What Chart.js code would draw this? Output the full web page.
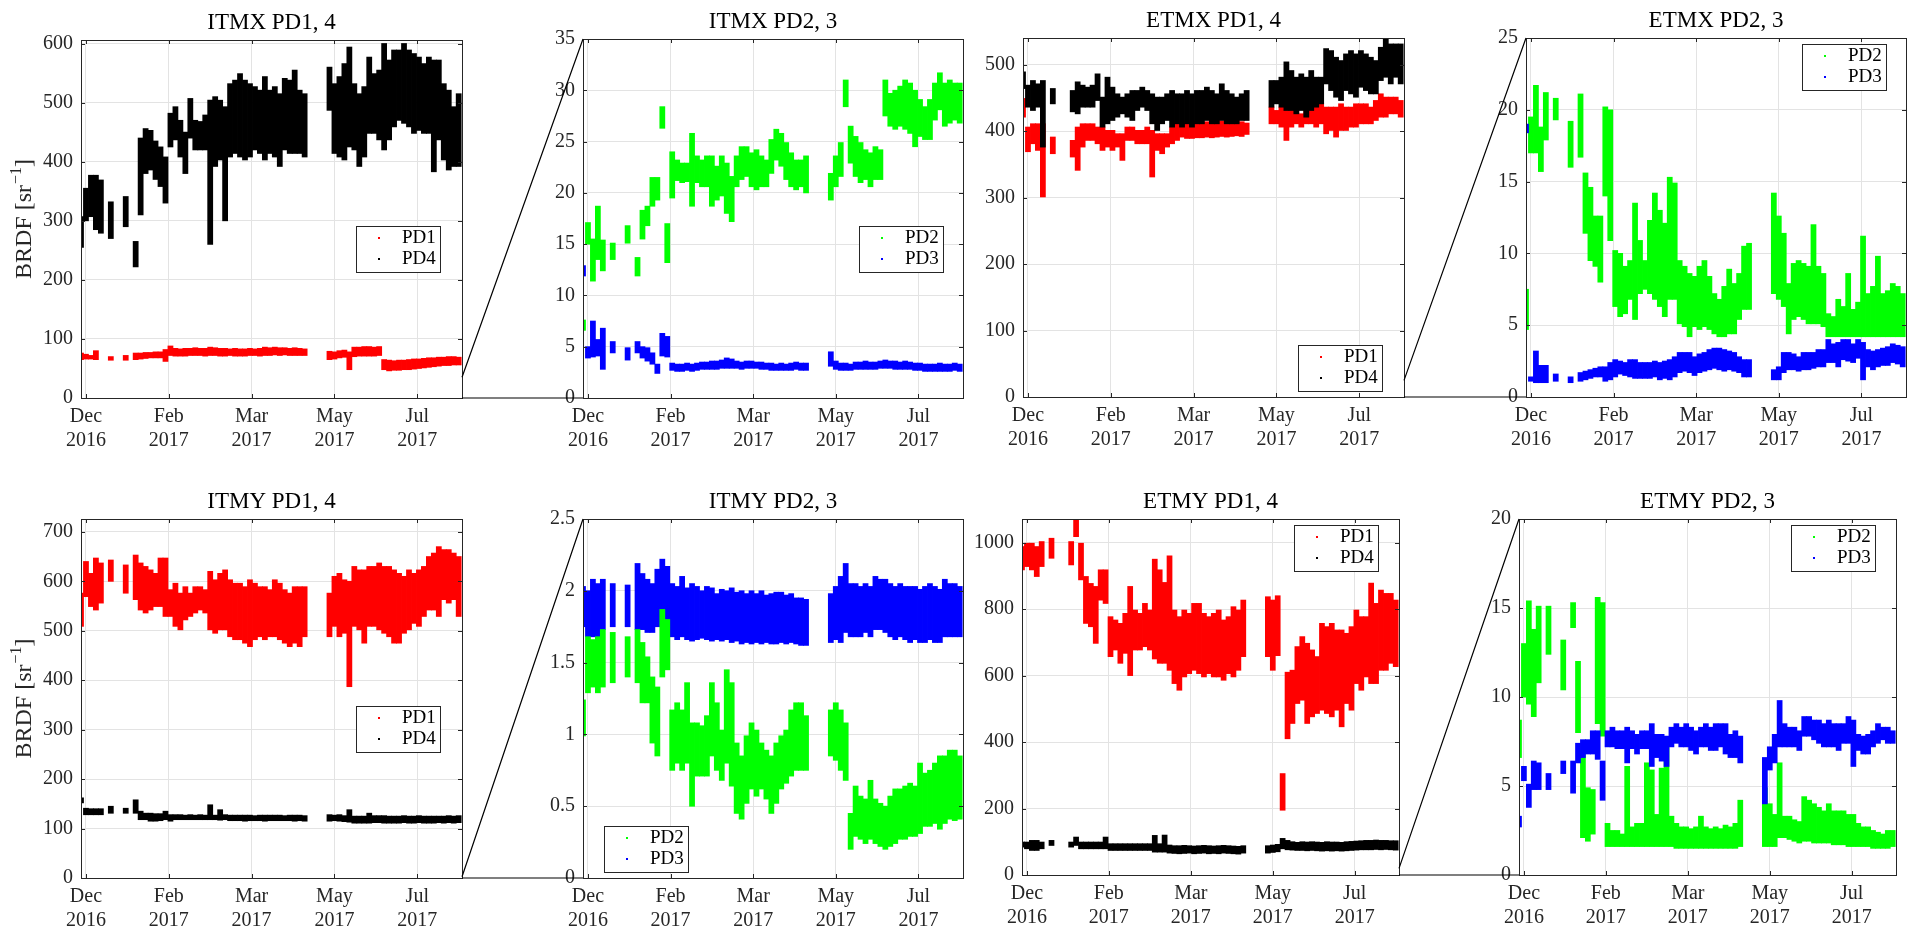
<!DOCTYPE html>
<html>
<head>
<meta charset="utf-8">
<title>BRDF PD1-4</title>
<script src="https://cdn.jsdelivr.net/npm/chart.js@4.4.1/dist/chart.umd.min.js"></script>
<style>
  body { margin: 0; background: #fff; }
  #page { position: relative; width: 1907px; height: 928px; overflow: hidden; background: #fff; }
  #links { position: absolute; left: 0; top: 0; z-index: 5; pointer-events: none; }
</style>
</head>
<body>
<div id="page">
  <canvas id="links" width="1907" height="928"></canvas>
</div>
<script>
// days counted from 16 Dec 2016; every series is sampled on this 3-day grid as [low, high] spread
const dayGrid = [-3, 0, 3, 6, 9, 12, 15, 18, 21, 24,
  27, 30, 33, 36, 39, 42, 45, 48, 51, 54,
  57, 60, 63, 66, 69, 72, 75, 78, 81, 84,
  87, 90, 93, 96, 99, 102, 105, 108, 111, 114,
  117, 120, 123, 126, 129, 132, 135, 138, 141, 144,
  147, 150, 153, 156, 159, 162, 165, 168, 171, 174,
  177, 180, 183, 186, 189, 192, 195, 198, 201, 204,
  207, 210, 213, 216, 219, 222, 225];

const tickDays = [0, 50, 100, 150, 200];
const tickLabels = [['Dec', '2016'], ['Feb', '2017'], ['Mar', '2017'], ['May', '2017'], ['Jul', '2017']];

// ITMX
const itmxPd1 = [
  [65,76], [66,74], [66,72], [65,80], null, null, [64,70], null, null, [64,72],
  null, [65,76], [66,76], [67,77], [68,77], [68,78], [68,78], [62,82], [72,88], [71,84],
  [71,83], [71,84], [72,84], [72,85], [72,84], [71,84], [72,86], [72,85], [71,84], [71,84],
  [72,83], [71,84], [71,83], [71,83], [72,84], [72,83], [71,84], [72,86], [72,85], [73,86],
  [72,85], [73,85], [72,84], [72,85], [72,84], [72,83], null, null, null, null,
  [65,79], [66,78], [68,80], [69,81], [48,78], [70,86], [71,86], [71,87], [71,87], [71,86],
  [72,87], [48,65], [46,64], [47,63], [47,64], [48,64], [48,65], [49,66], [50,66], [51,67],
  [52,68], [53,68], [54,69], [55,69], [55,70], [56,70], [56,69]];
const itmxPd4 = [
  [255,307], [300,355], [307,377], [285,377], [279,369], null, [270,332], null, null, [290,341],
  null, [222,265], [310,440], [380,456], [386,453], [370,435], [358,425], [330,408], [425,482], [437,493],
  [408,470], [380,450], [440,507], [420,470], [420,468], [420,479], [260,504], [392,510], [403,504], [300,493],
  [408,532], [414,538], [408,549], [403,538], [408,532], [420,527], [414,521], [403,544], [414,521], [408,527],
  [392,515], [420,541], [414,538], [414,555], [414,521], [408,515], null, null, null, null,
  [487,560], [414,532], [408,544], [403,566], [425,594], [420,532], [392,515], [408,527], [448,577], [448,549],
  [437,555], [420,600], [437,572], [459,589], [470,589], [465,600], [459,589], [448,583], [453,577], [448,566],
  [448,577], [383,572], [437,572], [403,532], [386,521], [392,493], [392,515]];
const itmxPd2 = [
  [6.6,7.6], [15.0,17.1], [11.4,15.5], [13.5,18.7], [12.4,15.4], null, [13.5,15.1], null, null, [15.1,16.8],
  null, [11.9,13.7], [15.5,18.3], [16.8,18.7], [18.7,21.5], [19.3,21.5], [26.3,28.4], [13.2,17.0], [19.5,24.0], [21.2,23.2],
  [21.0,22.9], [21.1,22.9], [18.7,25.8], [21.0,23.6], [20.6,23.2], [20.6,23.6], [18.7,23.6], [19.3,22.6], [19.7,23.6], [18.0,22.9],
  [17.2,21.6], [20.6,23.6], [21.3,24.5], [21.6,24.5], [20.6,23.9], [20.3,24.2], [20.6,23.6], [20.6,23.2], [21.9,25.2], [23.2,26.2],
  [22.6,25.8], [21.3,24.9], [20.6,23.9], [20.3,23.2], [20.6,23.2], [20.0,23.6], null, null, null, null,
  [19.3,21.9], [20.6,23.6], [21.6,24.9], [28.4,31.0], [22.9,26.5], [21.6,25.5], [21.0,24.9], [21.3,24.2], [20.6,23.9], [21.3,24.5],
  [21.3,24.2], [27.5,31.0], [26.5,29.7], [26.2,30.0], [26.5,30.4], [26.2,31.0], [25.8,30.7], [24.5,30.0], [25.5,29.1], [25.2,28.4],
  [25.2,29.1], [27.1,30.7], [28.1,31.7], [26.5,30.7], [26.8,31.0], [27.1,30.7], [26.8,30.7]];
const itmxPd3 = [
  [11.9,12.9], [3.9,5.0], [4.0,7.5], [4.1,5.7], [2.8,6.8], null, [4.4,5.5], null, null, [3.7,4.9],
  null, [4.4,5.5], [3.9,5.0], [3.6,4.9], [3.3,4.4], [2.4,3.3], [4.1,6.3], [4.0,6.0], [2.7,3.4], [2.6,3.3],
  [2.6,3.3], [2.7,3.4], [2.6,3.3], [2.7,3.4], [2.8,3.5], [2.8,3.5], [2.8,3.6], [2.8,3.6], [2.9,3.7], [2.9,3.9],
  [2.9,3.8], [2.9,3.6], [2.8,3.5], [2.9,3.6], [2.9,3.6], [2.9,3.5], [2.8,3.5], [2.8,3.4], [2.7,3.4], [2.7,3.3],
  [2.7,3.4], [2.7,3.3], [2.7,3.4], [2.8,3.5], [2.7,3.4], [2.7,3.4], null, null, null, null,
  [3.1,4.5], [2.8,3.6], [2.7,3.4], [2.7,3.4], [2.7,3.3], [2.8,3.5], [2.8,3.5], [2.8,3.6], [2.8,3.5], [2.8,3.5],
  [2.9,3.6], [2.9,3.7], [2.9,3.6], [2.8,3.6], [2.8,3.5], [2.8,3.6], [2.8,3.5], [2.7,3.4], [2.7,3.4], [2.6,3.3],
  [2.6,3.3], [2.6,3.3], [2.6,3.4], [2.6,3.3], [2.6,3.3], [2.7,3.4], [2.6,3.3]];

// ETMX
const etmxPd1 = [
  [421,449], [369,406], [381,411], [371,411], [301,411], null, [366,391], null, null, null,
  [361,386], [341,406], [376,411], [386,411], [386,411], [381,406], [371,406], [376,401], [371,401], [376,396],
  [356,396], [386,406], [386,406], [381,401], [381,401], [381,406], [331,401], [371,396], [366,396], [376,396],
  [381,406], [386,411], [391,411], [389,412], [389,413], [390,414], [390,413], [391,414], [390,414], [391,414],
  [392,415], [391,414], [392,413], [393,414], [392,414], [395,412], null, null, null, null,
  [411,436], [411,431], [406,436], [386,431], [406,431], [411,431], [406,426], [411,431], [411,441], [406,441],
  [411,441], [396,436], [401,436], [391,436], [401,441], [401,436], [406,436], [406,441], [411,441], [411,441],
  [411,436], [416,446], [421,456], [421,451], [426,451], [426,451], [421,446]];
const etmxPd4 = [
  [464,489], [436,469], [431,476], [436,471], [376,476], null, [441,464], null, null, null,
  [429,461], [426,474], [436,469], [436,466], [436,469], [446,486], [406,451], [411,481], [416,466], [421,456],
  [426,451], [421,456], [416,461], [431,461], [436,466], [431,461], [411,456], [401,451], [411,451], [416,456],
  [406,461], [411,456], [406,456], [411,461], [406,456], [411,461], [411,461], [416,466], [411,461], [411,456],
  [416,471], [411,461], [411,456], [411,451], [416,456], [416,461], null, null, null, null,
  [436,476], [441,476], [436,481], [431,504], [431,491], [426,481], [431,486], [421,481], [431,491], [436,481],
  [441,481], [471,524], [461,521], [451,511], [446,506], [461,516], [456,521], [451,516], [466,521], [461,516],
  [456,511], [456,506], [476,526], [481,541], [471,531], [481,531], [471,531]];
const etmxPd2 = [
  [4.7,7.5], [17.0,19.5], [17.0,21.7], [15.7,18.8], [17.9,21.2], null, [19.3,20.8], null, null, [16.0,19.2],
  null, [16.7,21.1], [11.4,15.6], [9.5,14.6], [9.1,12.6], [8.0,12.6], [14.0,20.2], [10.9,20.0], [6.3,10.2], [5.6,10.0],
  [5.8,9.1], [6.8,9.5], [5.4,13.5], [7.2,10.9], [7.5,9.5], [7.2,12.3], [6.8,14.2], [6.3,13.0], [5.6,12.1], [6.8,15.3],
  [6.8,14.9], [5.1,9.5], [4.9,9.1], [4.2,8.6], [4.9,8.4], [4.7,9.1], [4.9,9.5], [4.7,8.4], [4.4,7.2], [4.2,6.8],
  [4.2,7.7], [4.4,8.9], [4.4,7.9], [5.4,8.6], [6.1,10.5], [6.1,10.7], null, null, null, null,
  [7.2,14.2], [6.8,12.6], [6.3,11.4], [4.4,7.9], [5.4,9.3], [5.6,9.5], [5.4,9.3], [5.1,9.1], [5.1,12.0], [5.1,9.1],
  [4.9,8.6], [4.2,5.8], [4.2,5.6], [4.2,6.8], [4.2,6.3], [4.2,8.6], [4.2,6.1], [4.2,6.6], [4.2,11.2], [4.2,7.2],
  [4.2,7.7], [4.2,9.8], [4.2,7.2], [4.2,7.4], [4.2,7.9], [4.2,7.7], [4.2,7.2]];
const etmxPd3 = [
  [18.4,19.0], [1.1,1.4], [1.0,3.2], [1.0,2.2], [1.0,2.2], null, [1.1,1.6], null, null, [1.0,1.4],
  null, [1.1,1.7], [1.2,1.8], [1.3,1.9], [1.4,2.0], [1.4,2.1], [1.1,2.1], [1.2,2.4], [1.4,2.6], [1.6,2.5],
  [1.5,2.4], [1.4,2.6], [1.3,2.6], [1.3,2.4], [1.3,2.4], [1.3,2.4], [1.4,2.5], [1.2,2.4], [1.3,2.5], [1.2,2.6],
  [1.4,2.8], [1.7,3.1], [1.8,3.1], [1.7,3.1], [1.5,2.8], [1.7,3.0], [1.8,3.1], [1.9,3.3], [2.0,3.4], [1.9,3.4],
  [1.8,3.3], [1.9,3.2], [1.8,3.1], [1.7,2.8], [1.4,2.6], [1.4,2.6], null, null, null, null,
  [1.2,1.9], [1.2,2.1], [1.7,3.1], [1.9,3.1], [1.9,3.0], [1.8,2.8], [1.9,3.1], [1.9,3.1], [2.0,3.1], [2.1,3.3],
  [2.1,3.3], [2.4,4.0], [2.4,3.7], [2.1,3.8], [2.6,4.0], [2.5,4.0], [2.4,3.7], [2.7,4.0], [1.2,3.8], [2.1,3.3],
  [1.9,3.2], [2.1,3.3], [2.2,3.4], [2.2,3.5], [2.4,3.7], [2.3,3.6], [2.1,3.5]];

// ITMY
const itmyPd1 = [
  [509,576], [569,640], [549,616], [542,647], [556,637], null, [600,643], null, null, [576,633],
  null, [563,653], [542,637], [536,630], [542,623], [549,616], [549,647], [529,647], [529,583], [509,596],
  [502,576], [522,589], [529,576], [536,589], [542,589], [536,583], [502,620], [495,603], [502,616], [502,623],
  [488,603], [482,596], [482,596], [475,589], [468,603], [482,596], [488,589], [482,589], [488,583], [488,603],
  [482,596], [475,583], [468,576], [475,589], [468,589], [488,589], null, null, null, null,
  [488,576], [509,610], [488,616], [495,603], [387,600], [509,630], [502,623], [475,623], [509,630], [509,630],
  [502,637], [495,630], [488,630], [475,623], [475,616], [495,610], [502,623], [515,616], [509,623], [529,630],
  [542,650], [542,657], [529,670], [563,664], [556,664], [563,657], [529,650]];
const itmyPd4 = [
  [152,162], [128,141], [128,140], [128,140], [128,140], null, [131,145], null, null, [131,141],
  null, [131,158], [118,135], [118,131], [115,131], [115,130], [116,130], [118,135], [115,128], [118,128],
  [118,128], [118,127], [118,128], [118,127], [118,128], [118,127], [118,148], [118,127], [117,138], [118,128],
  [116,127], [116,127], [116,127], [115,127], [116,127], [116,126], [116,127], [115,127], [116,127], [116,127],
  [116,127], [116,126], [116,127], [115,127], [116,127], [115,126], null, null, null, null,
  [115,128], [116,127], [115,128], [114,126], [113,138], [111,125], [111,125], [111,125], [111,131], [112,126],
  [112,126], [111,126], [111,125], [111,125], [111,125], [112,126], [111,125], [111,125], [112,126], [111,125],
  [111,125], [111,125], [112,125], [111,125], [112,126], [111,125], [112,126]];
const itmyPd2 = [
  [0.99,1.24], [1.29,1.68], [1.33,1.66], [1.29,1.68], [1.33,1.73], null, [1.36,1.71], null, null, [1.40,1.68],
  null, [1.36,1.73], [1.22,1.64], [1.22,1.54], [0.94,1.40], [0.85,1.33], [1.40,1.87], [1.45,1.80], [0.75,1.17], [0.80,1.22],
  [0.75,1.17], [0.80,1.36], [0.50,1.08], [0.71,1.08], [0.71,1.06], [0.71,1.13], [0.85,1.36], [0.75,1.22], [0.68,1.03], [0.80,1.45],
  [0.64,1.36], [0.45,0.94], [0.41,0.85], [0.52,0.99], [0.62,1.08], [0.57,1.03], [0.62,0.94], [0.55,0.89], [0.45,0.85], [0.52,0.94],
  [0.62,0.99], [0.66,1.03], [0.71,1.17], [0.75,1.22], [0.75,1.22], [0.75,1.13], null, null, null, null,
  [0.85,1.17], [0.82,1.22], [0.75,1.17], [0.68,1.08], [0.20,0.45], [0.29,0.64], [0.27,0.57], [0.24,0.55], [0.27,0.68], [0.24,0.55],
  [0.22,0.52], [0.20,0.50], [0.22,0.57], [0.24,0.62], [0.27,0.62], [0.27,0.64], [0.29,0.66], [0.29,0.64], [0.31,0.80], [0.36,0.73],
  [0.36,0.75], [0.38,0.80], [0.34,0.85], [0.38,0.85], [0.41,0.89], [0.40,0.89], [0.41,0.85]];
const itmyPd3 = [
  [1.75,2.03], [1.68,2.00], [1.68,2.08], [1.64,2.05], [1.73,2.08], null, [1.75,2.05], null, null, [1.75,2.04],
  null, [1.73,2.19], [1.73,2.12], [1.71,2.08], [1.71,2.05], [1.75,2.15], [1.80,2.22], [1.75,2.17], [1.68,2.05], [1.66,2.03],
  [1.68,2.10], [1.66,2.02], [1.65,2.05], [1.66,2.03], [1.67,2.00], [1.66,2.03], [1.65,2.02], [1.66,1.98], [1.65,2.01], [1.66,2.00],
  [1.64,2.02], [1.65,1.99], [1.63,2.00], [1.64,1.98], [1.63,2.00], [1.64,1.98], [1.63,2.00], [1.64,1.97], [1.63,1.98], [1.63,1.99],
  [1.64,1.99], [1.63,1.97], [1.64,1.98], [1.63,1.95], [1.62,1.95], [1.62,1.94], null, null, null, null,
  [1.64,1.98], [1.66,2.03], [1.64,2.10], [1.71,2.19], [1.68,2.05], [1.68,2.05], [1.68,2.03], [1.71,2.05], [1.68,2.03], [1.73,2.10],
  [1.73,2.08], [1.71,2.08], [1.68,2.05], [1.66,2.03], [1.68,2.05], [1.66,2.03], [1.64,2.03], [1.66,2.03], [1.64,2.01], [1.64,2.03],
  [1.66,2.05], [1.64,2.03], [1.64,2.01], [1.68,2.08], [1.68,2.05], [1.68,2.05], [1.68,2.03]];

// ETMY
const etmyPd1 = [
  [918,988], [928,998], [918,998], [898,988], [928,1003], null, [953,1013], null, null, null,
  [933,1003], [1018,1075], [888,998], [757,898], [747,877], [697,868], [827,918], [817,918], [657,777], [677,767],
  [637,757], [667,787], [600,868], [677,797], [677,787], [687,817], [677,797], [650,950], [637,918], [637,880],
  [616,960], [576,797], [556,777], [596,797], [606,787], [616,817], [606,817], [596,787], [606,777], [596,787],
  [596,797], [586,767], [606,777], [596,807], [616,797], [657,827], null, null, null, null,
  [657,837], [616,827], [660,840], [195,305], [410,610], [456,616], [516,687], [526,717], [456,697], [476,677],
  [486,657], [496,757], [486,747], [476,757], [496,737], [446,737], [516,727], [496,747], [576,797], [556,777],
  [596,777], [576,878], [576,817], [616,857], [616,847], [637,847], [627,827]];
const etmyPd4 = [
  [84,99], [79,99], [74,104], [74,104], [79,99], null, [89,104], null, null, null,
  [84,99], [89,114], [79,99], [79,99], [79,99], [79,99], [79,99], [79,114], [74,94], [74,94],
  [74,94], [74,94], [74,94], [74,94], [74,94], [74,94], [74,94], [69,119], [69,94], [69,120],
  [66,90], [65,88], [64,88], [65,89], [66,88], [64,87], [65,88], [66,89], [64,88], [65,87],
  [64,88], [66,89], [65,88], [64,87], [63,86], [66,88], null, null, null, null,
  [66,88], [68,90], [70,92], [79,110], [76,104], [75,100], [74,98], [74,100], [73,99], [74,100],
  [73,99], [72,98], [73,100], [72,99], [73,99], [72,98], [73,100], [74,101], [75,102], [76,103],
  [76,104], [76,104], [77,105], [76,104], [77,104], [76,103], [75,103]];
const etmyPd2 = [
  [6.6,8.7], [10.0,13.0], [9.6,15.4], [8.9,13.8], [10.8,15.1], null, [12.4,15.1], null, null, [10.4,13.2],
  null, [13.9,15.3], [8.0,12.0], [2.1,6.8], [1.9,4.9], [2.3,4.8], [8.5,15.6], [7.8,15.3], [1.6,2.9], [1.6,2.5],
  [1.6,2.5], [1.6,2.3], [1.6,6.1], [1.6,2.7], [1.6,2.9], [1.6,2.9], [1.6,6.3], [1.6,5.9], [1.6,3.4], [1.6,6.0],
  [1.6,7.5], [1.6,3.3], [1.5,2.9], [1.5,2.7], [1.5,2.7], [1.5,2.6], [1.5,2.7], [1.5,3.3], [1.5,2.7], [1.5,2.6],
  [1.5,2.7], [1.5,2.6], [1.5,2.8], [1.5,2.7], [1.5,2.9], [1.6,4.2], null, null, null, null,
  [1.6,4.9], [1.6,4.0], [1.6,3.4], [2.1,6.3], [2.1,3.3], [2.0,3.3], [1.9,3.1], [1.8,3.0], [1.9,4.4], [1.9,4.2],
  [1.8,4.0], [1.8,3.8], [1.8,3.6], [1.8,4.0], [1.7,3.6], [1.7,3.6], [1.7,3.6], [1.6,3.4], [1.6,3.4], [1.6,2.9],
  [1.6,2.7], [1.6,2.7], [1.5,2.5], [1.5,2.4], [1.5,2.3], [1.5,2.5], [1.6,2.5]];
const etmyPd3 = [
  [2.7,3.3], [5.3,6.1], [3.8,5.1], [4.8,6.4], [4.8,6.3], null, [4.8,5.7], null, null, [5.7,6.4],
  null, [4.6,6.4], [6.3,7.4], [6.6,7.6], [6.8,7.6], [6.8,8.1], [6.5,8.1], [4.2,6.4], [7.2,8.1], [7.2,8.3],
  [7.1,8.1], [7.1,8.1], [6.3,8.3], [7.1,8.1], [6.8,7.9], [7.1,8.1], [7.1,8.1], [6.1,8.5], [6.6,7.9], [6.4,7.9],
  [6.1,7.8], [7.2,8.3], [7.4,8.5], [7.2,8.3], [7.2,8.5], [7.0,8.3], [6.8,8.1], [7.2,8.3], [7.2,8.5], [7.0,8.3],
  [7.0,8.5], [7.2,8.5], [6.8,8.5], [6.6,7.9], [6.6,8.1], [6.3,7.8], null, null, null, null,
  [4.0,6.6], [5.9,7.2], [6.3,7.9], [7.2,9.8], [7.2,8.5], [7.2,8.3], [7.2,8.3], [7.0,8.1], [7.8,8.9], [7.8,8.9],
  [7.6,8.7], [7.4,8.7], [7.2,8.5], [7.2,8.7], [7.2,8.5], [7.0,8.5], [7.4,8.5], [7.4,8.9], [6.1,8.7], [7.0,7.9],
  [6.8,7.8], [6.8,7.9], [7.2,8.1], [7.4,8.5], [7.6,8.3], [7.4,8.3], [7.4,8.1]];

const red = '#ff0000', black = '#000000', green = '#00ff00', blue = '#0000ff';
const axisColor = '#262626';
const gridColor = '#e3e3e3';
const serif = '"Liberation Serif", "Times New Roman", serif';

Chart.defaults.font.family = serif;
Chart.defaults.font.size = 20;
Chart.defaults.color = axisColor;

// plot boxes on the page (left, top, right, bottom)
const frames = [
  { l: 81, t: 40, r: 462, b: 398 },
  { l: 583, t: 39, r: 963, b: 398 },
  { l: 1023, t: 38, r: 1404, b: 397 },
  { l: 1526, t: 38, r: 1906, b: 397 },
  { l: 81, t: 519, r: 462, b: 878 },
  { l: 583, t: 519, r: 963, b: 878 },
  { l: 1022, t: 519, r: 1399, b: 875 },
  { l: 1519, t: 519, r: 1896, b: 875 }
];

// front: index of the series painted last (on top)
const panels = [
  { title: 'ITMX PD1, 4', yMax: 606, yStep: 100, yLabel: true, front: 1,
    series: [{ label: 'PD1', values: itmxPd1, color: red }, { label: 'PD4', values: itmxPd4, color: black }],
    legend: { side: 'right', gap: 22, top: 186 } },
  { title: 'ITMX PD2, 3', yMax: 35, yStep: 5, front: 1,
    series: [{ label: 'PD2', values: itmxPd2, color: green }, { label: 'PD3', values: itmxPd3, color: blue }],
    legend: { side: 'right', gap: 20, top: 187 } },
  { title: 'ETMX PD1, 4', yMax: 540, yStep: 100, front: 1,
    series: [{ label: 'PD1', values: etmxPd1, color: red }, { label: 'PD4', values: etmxPd4, color: black }],
    legend: { side: 'right', gap: 22, bottom: 6 } },
  { title: 'ETMX PD2, 3', yMax: 25, yStep: 5, front: 1,
    series: [{ label: 'PD2', values: etmxPd2, color: green }, { label: 'PD3', values: etmxPd3, color: blue }],
    legend: { side: 'right', gap: 20, top: 6 } },
  { title: 'ITMY PD1, 4', yMax: 726, yStep: 100, yLabel: true, front: 1,
    series: [{ label: 'PD1', values: itmyPd1, color: red }, { label: 'PD4', values: itmyPd4, color: black }],
    legend: { side: 'right', gap: 22, top: 187 } },
  { title: 'ITMY PD2, 3', yMax: 2.5, yStep: 0.5, front: 0,
    series: [{ label: 'PD2', values: itmyPd2, color: green }, { label: 'PD3', values: itmyPd3, color: blue }],
    legend: { side: 'left', gap: 21, bottom: 6 } },
  { title: 'ETMY PD1, 4', yMax: 1071, yStep: 200, front: 1,
    series: [{ label: 'PD1', values: etmyPd1, color: red }, { label: 'PD4', values: etmyPd4, color: black }],
    legend: { side: 'right', gap: 21, top: 6 } },
  { title: 'ETMY PD2, 3', yMax: 20, yStep: 5, front: 1,
    series: [{ label: 'PD2', values: etmyPd2, color: green }, { label: 'PD3', values: etmyPd3, color: blue }],
    legend: { side: 'right', gap: 21, top: 6 } }
];

function toBars(values) {
  const out = [];
  dayGrid.forEach((d, i) => {
    if (values[i]) out.push({ x: d, y: values[i] });
  });
  return out;
}

// box, inward ticks, title, y label and legend in the matlab look
const panelDecor = {
  id: 'panelDecor',
  afterDraw(chart, args, opts) {
    const ctx = chart.ctx;
    const { left, right, top, bottom } = chart.chartArea;
    const xs = chart.scales.x, ys = chart.scales.y;
    ctx.save();
    ctx.strokeStyle = axisColor;
    ctx.lineWidth = 1;
    ctx.beginPath();
    xs.ticks.forEach(t => {
      const px = Math.round(xs.getPixelForValue(t.value)) + 0.5;
      ctx.moveTo(px, bottom); ctx.lineTo(px, bottom - 4);
      ctx.moveTo(px, top); ctx.lineTo(px, top + 4);
    });
    ys.ticks.forEach(t => {
      const py = Math.round(ys.getPixelForValue(t.value)) + 0.5;
      ctx.moveTo(left, py); ctx.lineTo(left + 4, py);
      ctx.moveTo(right, py); ctx.lineTo(right - 4, py);
    });
    ctx.stroke();
    ctx.strokeRect(Math.round(left) + 0.5, Math.round(top) + 0.5, Math.round(right - left), Math.round(bottom - top));

    ctx.fillStyle = '#000';
    ctx.font = '23px ' + serif;
    ctx.textAlign = 'center';
    ctx.textBaseline = 'alphabetic';
    ctx.fillText(opts.title, (left + right) / 2, top - 11);

    if (opts.yLabel) {
      ctx.save();
      ctx.translate(left - 56, (top + bottom) / 2);
      ctx.rotate(-Math.PI / 2);
      ctx.fillStyle = axisColor;
      ctx.textAlign = 'left';
      ctx.textBaseline = 'middle';
      const big = '24px ' + serif, small = '16px ' + serif;
      ctx.font = big;
      const w1 = ctx.measureText('BRDF [sr').width;
      const w3 = ctx.measureText(']').width;
      ctx.font = small;
      const w2 = ctx.measureText('\u22121').width + 1;
      const x0 = -(w1 + w2 + w3) / 2;
      ctx.font = big;
      ctx.fillText('BRDF [sr', x0, 0);
      ctx.font = small;
      ctx.fillText('\u22121', x0 + w1 + 1, -8);
      ctx.font = big;
      ctx.fillText(']', x0 + w1 + w2, 0);
      ctx.restore();
    }

    const lg = opts.legend;
    const w = 84, h = 46;
    const bx = lg.side === 'left' ? left + lg.gap : right - lg.gap - w;
    const by = lg.top !== undefined ? top + lg.top : bottom - lg.bottom - h;
    ctx.fillStyle = '#fff';
    ctx.fillRect(bx, by, w, h);
    ctx.strokeStyle = axisColor;
    ctx.strokeRect(Math.round(bx) + 0.5, Math.round(by) + 0.5, w, h);
    ctx.font = '19px ' + serif;
    ctx.textAlign = 'left';
    ctx.textBaseline = 'middle';
    chart.data.datasets.forEach((ds, i) => {
      const cy = by + 12 + i * 21;
      ctx.fillStyle = ds.backgroundColor;
      ctx.fillRect(bx + 22, cy - 1, 2, 2);
      ctx.fillStyle = '#000';
      ctx.fillText(ds.label, bx + 46, cy);
    });
    ctx.restore();
  }
};

const page = document.getElementById('page');

function buildPanel(p, f) {
  const yW = p.yLabel ? 81 : 70;
  const padR = f.r >= 1900 ? 1 : 10;
  const canvas = document.createElement('canvas');
  canvas.width = yW + (f.r - f.l) + padR;
  canvas.height = 45 + (f.b - f.t) + 62;
  canvas.style.position = 'absolute';
  page.appendChild(canvas);

  const chart = new Chart(canvas, {
    type: 'bar',
    data: {
      datasets: p.series.map((s, i) => ({
        label: s.label,
        data: toBars(s.values),
        backgroundColor: s.color,
        borderWidth: 0,
        grouped: false,
        barPercentage: 1,
        categoryPercentage: 1,
        inflateAmount: 0.4,
        order: i === p.front ? 0 : 1
      }))
    },
    options: {
      responsive: false,
      maintainAspectRatio: false,
      animation: false,
      devicePixelRatio: 1,
      events: [],
      layout: { padding: { left: 0, top: 45, right: padR, bottom: 0 } },
      plugins: {
        legend: { display: false },
        tooltip: { enabled: false },
        panelDecor: { title: p.title, yLabel: p.yLabel, legend: p.legend }
      },
      scales: {
        x: {
          type: 'linear',
          min: -3,
          max: 227,
          offset: false,
          grid: { color: gridColor, drawTicks: false, offset: false },
          border: { display: false },
          ticks: { padding: 7, autoSkip: false, maxRotation: 0, callback: (v, i) => tickLabels[i] },
          afterBuildTicks: s => { s.ticks = tickDays.map(v => ({ value: v })); },
          afterFit: s => { s.height = 62; }
        },
        y: {
          type: 'linear',
          min: 0,
          max: p.yMax,
          grid: { color: gridColor, drawTicks: false },
          border: { display: false },
          ticks: { autoSkip: false, padding: 8, callback: v => String(v) },
          afterBuildTicks: s => {
            const ticks = [];
            for (let k = 0; k * p.yStep <= p.yMax + 1e-9; k++) ticks.push({ value: +(k * p.yStep).toFixed(3) });
            s.ticks = ticks;
          },
          afterFit: s => { s.width = yW; }
        }
      }
    },
    plugins: [panelDecor]
  });

  const x = f.l - chart.chartArea.left;
  const y = f.t - chart.chartArea.top;
  canvas.style.left = x + 'px';
  canvas.style.top = y + 'px';
  return { chart, x, y };
}

const built = panels.map((p, k) => buildPanel(p, frames[k]));

// zoom connectors from each full-range panel to its low-range neighbour
const link = document.getElementById('links').getContext('2d');
link.strokeStyle = '#000';
link.lineWidth = 1.2;
[[0, 1], [2, 3], [4, 5], [6, 7]].forEach(([a, b]) => {
  const A = built[a], B = built[b];
  const ax = A.x + A.chart.chartArea.right;
  const ayTop = A.y + A.chart.scales.y.getPixelForValue(B.chart.scales.y.max);
  const ayBot = A.y + A.chart.chartArea.bottom;
  const bx = B.x + B.chart.chartArea.left;
  const byTop = B.y + B.chart.chartArea.top;
  const byBot = B.y + B.chart.chartArea.bottom;
  link.beginPath();
  link.moveTo(ax, ayTop); link.lineTo(bx, byTop);
  link.moveTo(ax, ayBot); link.lineTo(bx, byBot);
  link.stroke();
});
</script>
</body>
</html>
